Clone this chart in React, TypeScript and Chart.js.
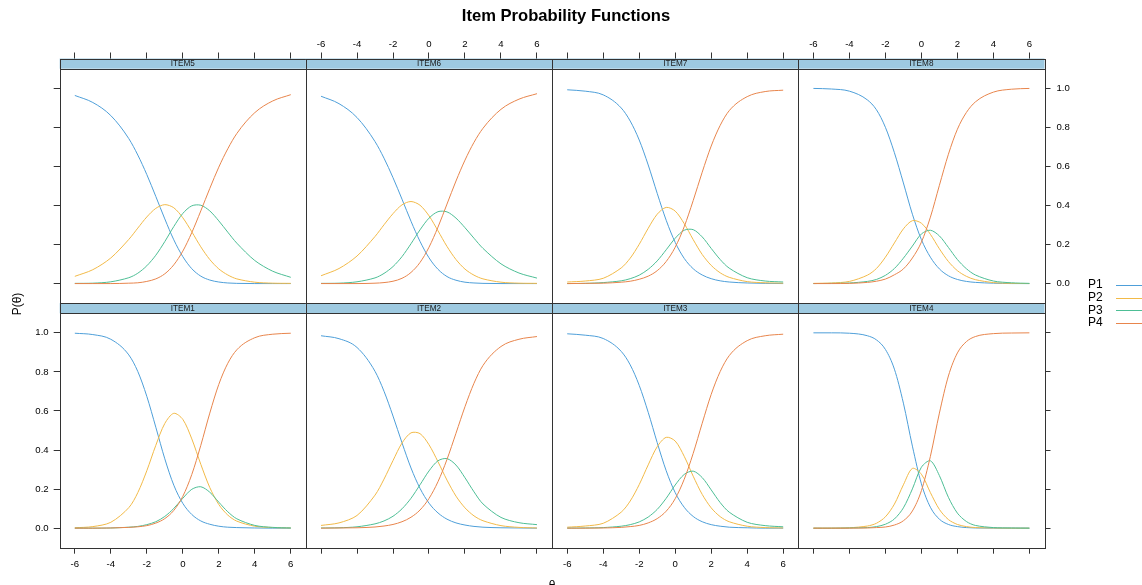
import React, { useEffect, useRef } from "react";
import { Chart, registerables } from "chart.js";

Chart.register(...registerables);

// ---------- data ----------
const THETA = [-6, -5, -4, -3, -2.5, -2, -1.5, -1, -0.5, 0, 0.5, 1, 1.5, 2, 2.5, 3, 4, 5, 6];
const X_TICKS = [-6, -4, -2, 0, 2, 4, 6];
const Y_TICKS = [0, 0.2, 0.4, 0.6, 0.8, 1.0];
const CATEGORIES = ["P1", "P2", "P3", "P4"];
const TOP_ROW_ITEMS = ["ITEM5", "ITEM6", "ITEM7", "ITEM8"];
const BOTTOM_ROW_ITEMS = ["ITEM1", "ITEM2", "ITEM3", "ITEM4"];
const TITLE = "Item Probability Functions";
const Y_LABEL = "P(\u03B8)";
const X_LABEL = "\u03B8";

const ITEM1_P1 = [0.998, 0.991, 0.967, 0.887, 0.802, 0.675, 0.517, 0.355, 0.220, 0.127, 0.070, 0.037, 0.020, 0.010, 0.005, 0.003, 0.001, 0.000, 0.000];
const ITEM1_P2 = [0.002, 0.008, 0.030, 0.105, 0.182, 0.294, 0.424, 0.536, 0.588, 0.557, 0.457, 0.327, 0.208, 0.121, 0.067, 0.036, 0.010, 0.003, 0.001];
const ITEM1_P3 = [0.000, 0.000, 0.001, 0.005, 0.009, 0.018, 0.033, 0.060, 0.101, 0.153, 0.199, 0.212, 0.184, 0.133, 0.084, 0.048, 0.014, 0.004, 0.001];
const ITEM1_P4 = [0.000, 0.000, 0.001, 0.004, 0.007, 0.013, 0.026, 0.049, 0.091, 0.163, 0.275, 0.424, 0.589, 0.736, 0.844, 0.913, 0.975, 0.993, 0.998];

const ITEM2_P1 = [0.985, 0.970, 0.925, 0.803, 0.701, 0.574, 0.437, 0.308, 0.204, 0.128, 0.078, 0.046, 0.027, 0.016, 0.009, 0.005, 0.002, 0.001, 0.000];
const ITEM2_P2 = [0.014, 0.027, 0.065, 0.169, 0.251, 0.346, 0.436, 0.488, 0.484, 0.427, 0.340, 0.246, 0.164, 0.104, 0.063, 0.038, 0.013, 0.004, 0.001];
const ITEM2_P3 = [0.001, 0.002, 0.007, 0.022, 0.037, 0.061, 0.099, 0.153, 0.222, 0.293, 0.345, 0.356, 0.323, 0.258, 0.186, 0.124, 0.055, 0.028, 0.018];
const ITEM2_P4 = [0.000, 0.001, 0.002, 0.006, 0.011, 0.019, 0.033, 0.056, 0.093, 0.152, 0.238, 0.352, 0.486, 0.622, 0.742, 0.833, 0.930, 0.967, 0.981];

const ITEM3_P1 = [0.995, 0.988, 0.971, 0.905, 0.836, 0.731, 0.593, 0.438, 0.294, 0.182, 0.107, 0.060, 0.033, 0.018, 0.010, 0.005, 0.002, 0.000, 0.000];
const ITEM3_P2 = [0.005, 0.011, 0.025, 0.082, 0.139, 0.223, 0.324, 0.417, 0.465, 0.446, 0.368, 0.266, 0.173, 0.104, 0.059, 0.033, 0.010, 0.003, 0.001];
const ITEM3_P3 = [0.000, 0.001, 0.003, 0.010, 0.018, 0.032, 0.057, 0.096, 0.153, 0.221, 0.275, 0.292, 0.259, 0.196, 0.131, 0.082, 0.030, 0.013, 0.007];
const ITEM3_P4 = [0.000, 0.000, 0.001, 0.004, 0.008, 0.014, 0.027, 0.049, 0.087, 0.151, 0.250, 0.383, 0.537, 0.685, 0.802, 0.883, 0.960, 0.985, 0.993];

const ITEM4_P1 = [1.000, 1.000, 0.998, 0.985, 0.964, 0.915, 0.814, 0.640, 0.420, 0.227, 0.107, 0.046, 0.019, 0.008, 0.003, 0.001, 0.000, 0.000, 0.000];
const ITEM4_P2 = [0.000, 0.000, 0.002, 0.011, 0.025, 0.058, 0.123, 0.222, 0.306, 0.276, 0.182, 0.096, 0.044, 0.019, 0.008, 0.003, 0.001, 0.000, 0.000];
const ITEM4_P3 = [0.000, 0.000, 0.001, 0.003, 0.008, 0.020, 0.047, 0.104, 0.201, 0.312, 0.345, 0.269, 0.158, 0.077, 0.034, 0.014, 0.003, 0.001, 0.000];
const ITEM4_P4 = [0.000, 0.000, 0.000, 0.001, 0.003, 0.006, 0.016, 0.038, 0.088, 0.192, 0.368, 0.589, 0.779, 0.897, 0.955, 0.981, 0.996, 0.999, 1.000];

const ITEM5_P1 = [0.963, 0.927, 0.860, 0.742, 0.658, 0.558, 0.446, 0.331, 0.224, 0.138, 0.076, 0.038, 0.018, 0.008, 0.003, 0.001, 0.000, 0.000, 0.000];
const ITEM5_P2 = [0.037, 0.071, 0.131, 0.226, 0.284, 0.341, 0.385, 0.404, 0.388, 0.337, 0.265, 0.188, 0.123, 0.075, 0.044, 0.024, 0.007, 0.002, 0.001];
const ITEM5_P3 = [0.001, 0.002, 0.009, 0.030, 0.053, 0.091, 0.145, 0.215, 0.292, 0.359, 0.398, 0.401, 0.372, 0.321, 0.263, 0.207, 0.118, 0.063, 0.032];
const ITEM5_P4 = [0.000, 0.000, 0.000, 0.002, 0.004, 0.011, 0.024, 0.050, 0.096, 0.166, 0.261, 0.372, 0.487, 0.596, 0.690, 0.768, 0.875, 0.935, 0.967];

const ITEM6_P1 = [0.959, 0.921, 0.850, 0.727, 0.642, 0.542, 0.432, 0.319, 0.216, 0.132, 0.073, 0.036, 0.017, 0.007, 0.003, 0.001, 0.000, 0.000, 0.000];
const ITEM6_P2 = [0.040, 0.077, 0.141, 0.241, 0.301, 0.358, 0.403, 0.420, 0.401, 0.347, 0.270, 0.190, 0.123, 0.074, 0.043, 0.024, 0.007, 0.002, 0.001];
const ITEM6_P3 = [0.001, 0.002, 0.009, 0.029, 0.052, 0.087, 0.138, 0.204, 0.275, 0.335, 0.368, 0.367, 0.335, 0.286, 0.232, 0.180, 0.101, 0.054, 0.028];
const ITEM6_P4 = [0.000, 0.000, 0.000, 0.002, 0.005, 0.012, 0.027, 0.057, 0.108, 0.186, 0.289, 0.407, 0.525, 0.632, 0.723, 0.795, 0.892, 0.944, 0.972];

const ITEM7_P1 = [0.992, 0.985, 0.966, 0.899, 0.832, 0.735, 0.607, 0.462, 0.324, 0.211, 0.129, 0.076, 0.044, 0.025, 0.014, 0.008, 0.003, 0.001, 0.000];
const ITEM7_P2 = [0.008, 0.013, 0.027, 0.080, 0.130, 0.201, 0.283, 0.355, 0.390, 0.371, 0.307, 0.225, 0.149, 0.093, 0.055, 0.032, 0.010, 0.004, 0.002];
const ITEM7_P3 = [0.000, 0.001, 0.005, 0.014, 0.025, 0.043, 0.073, 0.116, 0.173, 0.232, 0.273, 0.276, 0.239, 0.180, 0.123, 0.079, 0.030, 0.013, 0.008];
const ITEM7_P4 = [0.000, 0.001, 0.002, 0.007, 0.012, 0.022, 0.038, 0.066, 0.113, 0.186, 0.291, 0.425, 0.570, 0.704, 0.810, 0.885, 0.957, 0.983, 0.990];

const ITEM8_P1 = [0.999, 0.996, 0.985, 0.940, 0.890, 0.800, 0.670, 0.515, 0.355, 0.225, 0.135, 0.075, 0.040, 0.021, 0.011, 0.006, 0.002, 0.000, 0.000];
const ITEM8_P2 = [0.001, 0.003, 0.011, 0.043, 0.077, 0.135, 0.208, 0.280, 0.322, 0.309, 0.252, 0.178, 0.113, 0.066, 0.037, 0.020, 0.005, 0.001, 0.000];
const ITEM8_P3 = [0.000, 0.001, 0.003, 0.011, 0.021, 0.042, 0.077, 0.130, 0.192, 0.254, 0.273, 0.244, 0.185, 0.123, 0.076, 0.044, 0.013, 0.004, 0.001];
const ITEM8_P4 = [0.000, 0.000, 0.001, 0.006, 0.012, 0.023, 0.045, 0.075, 0.131, 0.212, 0.340, 0.503, 0.662, 0.790, 0.876, 0.930, 0.980, 0.995, 0.999];

const ITEM_CURVES: Record<string, number[][]> = {
  ITEM1: [ITEM1_P1, ITEM1_P2, ITEM1_P3, ITEM1_P4],
  ITEM2: [ITEM2_P1, ITEM2_P2, ITEM2_P3, ITEM2_P4],
  ITEM3: [ITEM3_P1, ITEM3_P2, ITEM3_P3, ITEM3_P4],
  ITEM4: [ITEM4_P1, ITEM4_P2, ITEM4_P3, ITEM4_P4],
  ITEM5: [ITEM5_P1, ITEM5_P2, ITEM5_P3, ITEM5_P4],
  ITEM6: [ITEM6_P1, ITEM6_P2, ITEM6_P3, ITEM6_P4],
  ITEM7: [ITEM7_P1, ITEM7_P2, ITEM7_P3, ITEM7_P4],
  ITEM8: [ITEM8_P1, ITEM8_P2, ITEM8_P3, ITEM8_P4],
};

// ---------- styling / layout ----------
const W = 1142;
const H = 585;
const FONT = "'Liberation Sans', Arial, Helvetica, sans-serif";
const LINE_COLORS = ["#4E9FD9", "#F2BA48", "#4DBE95", "#E8854C"];
const STRIP_FILL = "#9ECAE1";
const BORDER = "#333333";
const X_MIN = -6.84;
const X_MAX = 6.84;
const Y_MIN = -0.1;
const Y_MAX = 1.1522;
const PANEL_TOP_VALUE = 1.1;
const LEFT_W = 59.7;
const RIGHT_W = 97.5;
const TOP_H = 58.5;
const BOTTOM_H = 37.3;

const tickFont = { family: FONT, size: 9.6 };

function xAxis(position: string, weight: number, labels: boolean, size: number, pad: number) {
  return {
    type: "linear",
    position,
    stack: position,
    stackWeight: 1,
    weight,
    min: X_MIN,
    max: X_MAX,
    afterBuildTicks: (s: any) => {
      s.ticks = X_TICKS.map((v) => ({ value: v }));
    },
    afterFit: (s: any) => {
      s.height = size;
    },
    grid: {
      display: true,
      drawOnChartArea: false,
      drawTicks: true,
      tickLength: 6,
      tickWidth: 1,
      tickColor: BORDER,
      color: BORDER,
    },
    border: { display: false },
    ticks: {
      display: labels,
      autoSkip: false,
      maxRotation: 0,
      minRotation: 0,
      padding: pad,
      color: "#000",
      font: tickFont,
      callback: (v: any) => String(v),
    },
  };
}

function yAxis(position: string, weight: number, labels: boolean, size: number, pad: number) {
  return {
    type: "linear",
    position,
    stack: position,
    stackWeight: 1,
    weight,
    min: Y_MIN,
    max: Y_MAX,
    afterBuildTicks: (s: any) => {
      s.ticks = Y_TICKS.map((v) => ({ value: v }));
    },
    afterFit: (s: any) => {
      s.width = size;
    },
    grid: {
      display: true,
      drawOnChartArea: false,
      drawTicks: true,
      tickLength: 6,
      tickWidth: 1,
      tickColor: BORDER,
      color: BORDER,
    },
    border: { display: false },
    ticks: {
      display: labels,
      autoSkip: false,
      padding: pad,
      color: "#000",
      font: tickFont,
      callback: (v: any) => Number(v).toFixed(1),
    },
  };
}

const px = (v: number) => Math.round(v) + 0.5;

const latticePlugin = {
  id: "latticeDecor",
  afterDraw(chart: any) {
    const { ctx, scales } = chart;
    ctx.save();
    const rows = [
      { y: scales.yT, items: TOP_ROW_ITEMS },
      { y: scales.yB, items: BOTTOM_ROW_ITEMS },
    ];
    for (const row of rows) {
      const ys = row.y;
      const stripTop = ys.top;
      const panelTop = ys.getPixelForValue(PANEL_TOP_VALUE);
      const panelBottom = ys.bottom;
      row.items.forEach((name: string, c: number) => {
        const xs = scales["xB" + (c + 1)];
        const l = xs.left;
        const r = xs.right;
        ctx.fillStyle = STRIP_FILL;
        ctx.fillRect(l, stripTop, r - l, panelTop - stripTop);
        ctx.strokeStyle = BORDER;
        ctx.lineWidth = 1;
        ctx.strokeRect(px(l), px(stripTop), Math.round(r) - Math.round(l), Math.round(panelTop) - Math.round(stripTop));
        ctx.strokeRect(px(l), px(panelTop), Math.round(r) - Math.round(l), Math.round(panelBottom) - Math.round(panelTop));
        ctx.fillStyle = "#1a1a1a";
        ctx.font = `8.2px ${FONT}`;
        ctx.textAlign = "center";
        ctx.textBaseline = "middle";
        ctx.fillText(name, (l + r) / 2, (stripTop + panelTop) / 2 + 0.5);
      });
    }

    // main title
    ctx.fillStyle = "#000";
    ctx.font = `bold 16.6px ${FONT}`;
    ctx.textAlign = "center";
    ctx.textBaseline = "middle";
    ctx.fillText(TITLE, 566, 16);

    // y label
    ctx.save();
    ctx.translate(18, 304);
    ctx.rotate(-Math.PI / 2);
    ctx.font = `12px ${FONT}`;
    ctx.fillText(Y_LABEL, 0, 0);
    ctx.restore();

    // x label (partly cut off by the bottom edge)
    ctx.font = `12px ${FONT}`;
    ctx.textAlign = "center";
    ctx.textBaseline = "alphabetic";
    ctx.fillText(X_LABEL, 552, 589);

    // legend (key)
    ctx.font = `12px ${FONT}`;
    ctx.textAlign = "left";
    ctx.textBaseline = "middle";
    CATEGORIES.forEach((lab, k) => {
      const y = 285 + k * 12.6;
      ctx.fillStyle = "#000";
      ctx.fillText(lab, 1088, y);
      ctx.strokeStyle = LINE_COLORS[k];
      ctx.lineWidth = 1;
      ctx.beginPath();
      ctx.moveTo(1116, Math.round(y) + 0.5);
      ctx.lineTo(1142, Math.round(y) + 0.5);
      ctx.stroke();
    });
    ctx.restore();
  },
};

export default function App() {
  const canvasRef = useRef<HTMLCanvasElement | null>(null);

  useEffect(() => {
    const canvas = canvasRef.current;
    if (!canvas) return;
    const datasets: any[] = [];
    const rowDefs: [string[], string][] = [
      [TOP_ROW_ITEMS, "yT"],
      [BOTTOM_ROW_ITEMS, "yB"],
    ];
    rowDefs.forEach(([items, yId]) => {
      items.forEach((name, c) => {
        ITEM_CURVES[name].forEach((vals, k) => {
          const peaked = k === 1 || k === 2;
          datasets.push({
            label: `${name} ${CATEGORIES[k]}`,
            data: THETA.map((t, i) => ({ x: t, y: vals[i] })),
            xAxisID: "xB" + (c + 1),
            yAxisID: yId,
            borderColor: LINE_COLORS[k],
            backgroundColor: LINE_COLORS[k],
            borderWidth: 1,
            pointRadius: 0,
            cubicInterpolationMode: peaked ? "default" : "monotone",
            tension: peaked ? 0.3 : 0.4,
            fill: false,
            order: 4 - k,
          });
        });
      });
    });

    const chart = new Chart(canvas, {
      type: "line",
      data: { datasets },
      options: {
        animation: false,
        responsive: false,
        devicePixelRatio: 1,
        events: [],
        layout: { padding: 0 },
        plugins: {
          legend: { display: false },
          tooltip: { enabled: false },
          title: { display: false },
        },
        scales: {
          xB1: xAxis("bottom", 1, true, BOTTOM_H, 5),
          xB2: xAxis("bottom", 2, false, BOTTOM_H, 5),
          xB3: xAxis("bottom", 3, true, BOTTOM_H, 5),
          xB4: xAxis("bottom", 4, false, BOTTOM_H, 5),
          xT1: xAxis("top", 4, false, TOP_H, 2),
          xT2: xAxis("top", 3, true, TOP_H, 2),
          xT3: xAxis("top", 2, false, TOP_H, 2),
          xT4: xAxis("top", 1, true, TOP_H, 2),
          yT: yAxis("left", 2, false, LEFT_W, 5),
          yB: yAxis("left", 1, true, LEFT_W, 5),
          yRT: yAxis("right", 1, true, RIGHT_W, 6),
          yRB: yAxis("right", 2, false, RIGHT_W, 6),
        } as any,
      } as any,
      plugins: [latticePlugin],
    } as any);
    return () => chart.destroy();
  }, []);

  return (
    <div style={{ position: "absolute", left: 0, top: 0, width: W, height: H, background: "#fff" }}>
      <canvas ref={canvasRef} width={W} height={H} style={{ display: "block", width: W, height: H }} />
    </div>
  );
}
